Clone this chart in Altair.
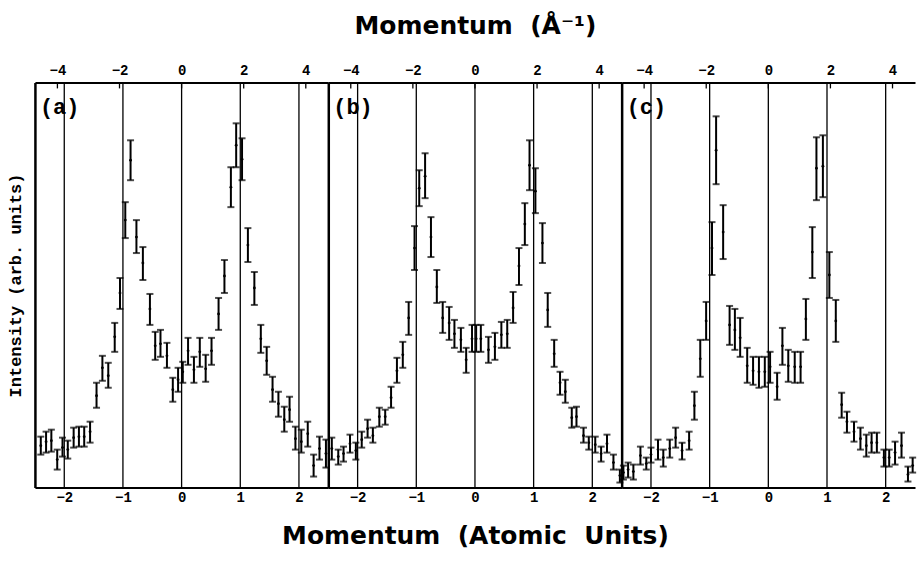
import altair as alt
import pandas as pd

# ---------------- data ----------------
# momentum in atomic units, intensity (arb. units), upper / lower error limits
a_q  = [-2.40, -2.31, -2.22, -2.12, -2.03, -1.94, -1.84, -1.75, -1.66, -1.56,
        -1.45, -1.35, -1.25, -1.14, -1.05, -0.96, -0.87, -0.77, -0.66, -0.54,
        -0.45, -0.36, -0.25, -0.15, -0.06, 0.02, 0.11, 0.21, 0.31, 0.41,
        0.51, 0.63, 0.73, 0.84, 0.93, 1.03, 1.13, 1.24, 1.35, 1.45,
        1.55, 1.65, 1.75, 1.84, 1.94, 2.04, 2.15, 2.25, 2.35, 2.46]
a_I  = [42, 46, 47, 28, 40, 38, 50, 51, 51, 56,
        92, 120, 112, 151, 195, 268, 328, 251, 225, 179,
        142, 144, 132, 98, 108, 116, 137, 118, 136, 119,
        137, 174, 212, 301, 343, 329, 243, 200, 149, 127,
        98, 84, 68, 78, 49, 46, 54, 22, 39, 34]
a_hi = [51, 56, 58, 38, 50, 47, 60, 61, 61, 66,
        105, 132, 125, 165, 210, 286, 348, 268, 241, 194,
        156, 158, 145, 110, 120, 126, 150, 131, 150, 133,
        150, 190, 228, 321, 365, 350, 260, 216, 163, 141,
        111, 96, 81, 91, 61, 58, 66, 33, 51, 48]
a_lo = [33, 35, 36, 18, 31, 29, 40, 41, 41, 45,
        80, 107, 100, 136, 179, 250, 308, 235, 208, 163,
        128, 131, 120, 86, 96, 105, 123, 105, 121, 106,
        123, 158, 195, 281, 321, 308, 226, 183, 135, 113,
        86, 71, 56, 66, 38, 35, 41, 11, 28, 20]

b_q  = [-2.44, -2.33, -2.24, -2.13, -2.03, -1.93, -1.83, -1.74, -1.63, -1.53,
        -1.43, -1.33, -1.23, -1.13, -1.03, -0.95, -0.85, -0.75, -0.65, -0.55,
        -0.44, -0.35, -0.24, -0.15, -0.05, 0.02, 0.10, 0.23, 0.34, 0.45,
        0.55, 0.65, 0.75, 0.85, 0.93, 1.03, 1.15, 1.24, 1.35, 1.45,
        1.54, 1.65, 1.73, 1.85, 1.94, 2.05, 2.15, 2.25, 2.36, 2.47]
b_I  = [39, 31, 34, 44, 37, 48, 59, 52, 71, 71,
        90, 117, 133, 170, 240, 300, 312, 251, 201, 170,
        165, 154, 148, 128, 149, 149, 149, 138, 141, 153,
        154, 180, 222, 264, 323, 297, 245, 178, 134, 105,
        96, 70, 71, 52, 45, 43, 34, 44, 25, 12]
b_hi = [50, 38, 41, 53, 45, 56, 68, 60, 80, 78,
        101, 130, 146, 186, 262, 318, 335, 271, 218, 186,
        181, 168, 160, 140, 163, 163, 163, 151, 155, 166,
        168, 196, 240, 285, 348, 320, 265, 195, 148, 116,
        108, 80, 81, 60, 51, 51, 41, 53, 33, 18]
b_lo = [28, 23, 26, 35, 28, 40, 50, 45, 61, 63,
        80, 105, 120, 153, 218, 282, 290, 231, 185, 155,
        148, 140, 136, 115, 136, 136, 136, 125, 128, 140,
        140, 165, 203, 243, 298, 275, 225, 161, 121, 93,
        85, 60, 61, 45, 38, 35, 26, 35, 18, 5]

c_q  = [-2.47, -2.39, -2.30, -2.18, -2.08, -2.00, -1.88, -1.79, -1.68, -1.58,
        -1.47, -1.35, -1.26, -1.16, -1.06, -0.96, -0.89, -0.77, -0.66, -0.57,
        -0.48, -0.36, -0.26, -0.16, -0.06, 0.03, 0.15, 0.24, 0.34, 0.45,
        0.55, 0.64, 0.75, 0.82, 0.93, 1.04, 1.15, 1.25, 1.34, 1.46,
        1.57, 1.67, 1.76, 1.85, 1.97, 2.06, 2.16, 2.27, 2.38, 2.46]
c_I  = [15, 18, 16, 32, 24, 33, 38, 30, 39, 50,
        37, 47, 82, 129, 167, 240, 338, 256, 163, 158,
        150, 122, 117, 116, 116, 121, 101, 142, 122, 121,
        121, 169, 236, 320, 322, 213, 167, 83, 66, 56,
        49, 42, 45, 45, 30, 30, 35, 42, 13, 22]
c_hi = [22, 25, 23, 41, 30, 40, 48, 38, 48, 60,
        45, 56, 96, 148, 186, 266, 372, 283, 182, 179,
        170, 140, 131, 131, 131, 136, 115, 160, 138, 136,
        136, 189, 261, 351, 353, 236, 188, 95, 76, 66,
        60, 53, 55, 55, 38, 38, 46, 55, 21, 30]
c_lo = [8, 10, 8, 23, 18, 25, 28, 21, 30, 40,
        28, 38, 68, 111, 148, 213, 304, 229, 143, 138,
        131, 105, 103, 100, 101, 105, 88, 123, 106, 105,
        105, 148, 210, 288, 291, 190, 146, 70, 55, 46,
        38, 31, 35, 35, 21, 21, 23, 30, 6, 15]

au_ticks = [-2, -1, 0, 1, 2]            # bottom axis (atomic units)
inva_ticks = [-4, -2, 0, 2, 4]          # top axis (inverse Angstrom)
panel_labels = ["(a)", "(b)", "(c)"]
AU_TO_INVA = 1.8897

AU_DOMAIN = [-2.5, 2.5]
INVA_DOMAIN = [AU_DOMAIN[0] * AU_TO_INVA, AU_DOMAIN[1] * AU_TO_INVA]
Y_DOMAIN = [0, 406]

MONO = "Liberation Mono"
SANS = "DejaVu Sans"
PW, PH = 294, 406


def make_panel(label, qs, Is, his, los, first, middle):
    df = pd.DataFrame({"q": qs, "I": Is, "hi": his, "lo": los})
    xsc = alt.Scale(domain=AU_DOMAIN, nice=False, zero=False)
    ysc = alt.Scale(domain=Y_DOMAIN, nice=False, zero=False)

    bax = dict(orient="bottom", values=au_ticks, ticks=False, grid=False,
               domain=True, domainColor="black", domainWidth=2,
               labelFont=MONO, labelFontSize=14, labelFontWeight="bold",
               labelColor="black", labelPadding=3)
    if middle:
        bax.update(title="Momentum\u00a0\u00a0(Atomic\u00a0\u00a0Units)",
                   titleFont=SANS, titleFontSize=25, titleFontWeight="bold",
                   titleColor="black", titlePadding=19)
    else:
        bax["title"] = None

    yax = dict(orient="left", labels=False, ticks=False, grid=False,
               domain=True, domainColor="black", domainWidth=2.5)
    if first:
        yax.update(title="Intensity (arb. units)", titleFont=MONO,
                   titleFontSize=17, titleFontWeight="bold",
                   titleColor="black", titlePadding=10)
    else:
        yax["title"] = None

    x_enc = alt.X("q:Q", scale=xsc, axis=alt.Axis(**bax))
    y_axis = alt.Axis(**yax)

    vlines = alt.Chart(pd.DataFrame({"q": au_ticks})).mark_rule(
        color="black", strokeWidth=1.3).encode(x=x_enc)
    base = alt.Chart(df)
    bars = base.mark_rule(color="black", strokeWidth=2).encode(
        x=x_enc, y=alt.Y("lo:Q", scale=ysc, axis=y_axis), y2="hi:Q")
    cap_lo = base.mark_tick(orient="horizontal", size=7, thickness=2,
                            color="black").encode(
        x=x_enc, y=alt.Y("lo:Q", scale=ysc, axis=y_axis))
    cap_hi = base.mark_tick(orient="horizontal", size=7, thickness=2,
                            color="black").encode(
        x=x_enc, y=alt.Y("hi:Q", scale=ysc, axis=y_axis))
    pts = base.mark_circle(color="black", size=8, opacity=1).encode(
        x=x_enc, y=alt.Y("I:Q", scale=ysc, axis=y_axis))
    txt = alt.Chart(pd.DataFrame({"t": [label]})).mark_text(
        font=MONO, fontSize=22, fontWeight="bold", color="black",
        align="left", baseline="middle").encode(
        text="t:N", x=alt.value(5), y=alt.value(25))

    tax = dict(orient="top", values=inva_ticks, ticks=False, grid=False,
               domain=True, domainColor="black", domainWidth=2,
               labelFont=MONO, labelFontSize=14, labelFontWeight="bold",
               labelColor="black", labelPadding=5)
    if middle:
        tax.update(title="Momentum\u00a0\u00a0(Å⁻¹)", titleFont=SANS,
                   titleFontSize=25, titleFontWeight="bold",
                   titleColor="black", titlePadding=25)
    else:
        tax["title"] = None
    top = alt.Chart(pd.DataFrame({"k": inva_ticks})).mark_rule(
        color="black", strokeWidth=1.3).encode(
        x=alt.X("k:Q", scale=alt.Scale(domain=INVA_DOMAIN, nice=False, zero=False),
                axis=alt.Axis(**tax)),
        y=alt.value(0), y2=alt.value(6))

    inner = alt.layer(vlines, bars, cap_lo, cap_hi, pts, txt)
    return alt.layer(inner, top).resolve_scale(x="independent").properties(
        width=PW, height=PH)


pa = make_panel(panel_labels[0], a_q, a_I, a_hi, a_lo, True, False)
pb = make_panel(panel_labels[1], b_q, b_I, b_hi, b_lo, False, True)
pc = make_panel(panel_labels[2], c_q, c_I, c_hi, c_lo, False, False)

chart = alt.hconcat(pa, pb, pc, spacing=0, bounds="flush").properties(
    padding={"left": 7, "top": 13, "right": 0, "bottom": 0},
    background="white",
).configure_view(stroke=None)

chart.save("out.html", embed_options={"renderer": "svg", "actions": False})
